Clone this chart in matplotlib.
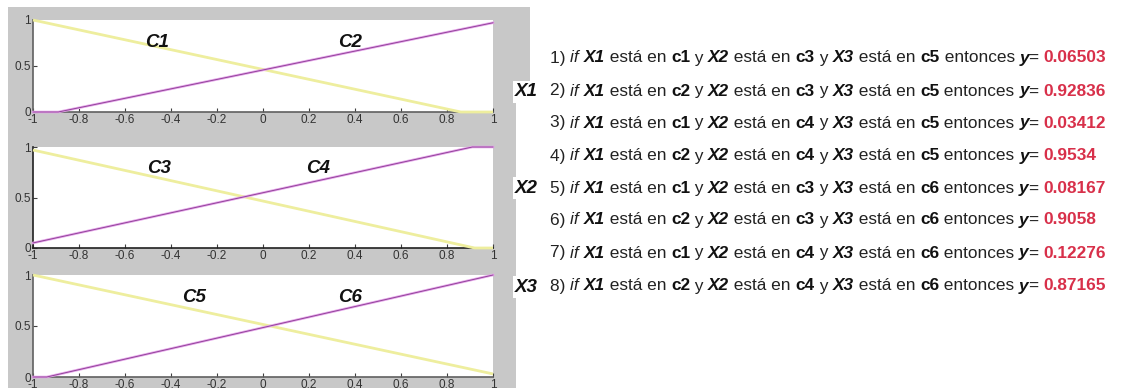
import matplotlib
matplotlib.use("Agg")
import matplotlib.pyplot as plt
from matplotlib.patches import Rectangle

plt.rcParams['font.family'] = ['Liberation Sans', 'DejaVu Sans']

W, H = 1141, 388

# Membership functions (breakpoints x, membership y)
c1_x = [-1.0, 0.86, 1.0]
c1_y = [1.0, 0.0, 0.0]
c2_x = [-1.0, -0.89, 1.0]
c2_y = [0.0, 0.0, 0.97]
c3_x = [-1.0, 0.92, 1.0]
c3_y = [0.97, 0.0, 0.0]
c4_x = [-1.0, 0.91, 1.0]
c4_y = [0.05, 1.0, 1.0]
c5_x = [-1.0, 1.0]
c5_y = [1.0, 0.03]
c6_x = [-1.0, -0.94, 1.0]
c6_y = [0.0, 0.0, 1.0]

set_names = [("C1", "C2"), ("C3", "C4"), ("C5", "C6")]
var_names = ["X1", "X2", "X3"]
x_ticks = [-1, -0.8, -0.6, -0.4, -0.2, 0, 0.2, 0.4, 0.6, 0.8, 1]
x_tick_labels = ["-1", "-0.8", "-0.6", "-0.4", "-0.2", "0", "0.2", "0.4", "0.6", "0.8", "1"]
y_ticks = [0, 0.5, 1]
y_tick_labels = ["0", "0.5", "1"]

rule_x1 = ["c1", "c2", "c1", "c2", "c1", "c2", "c1", "c2"]
rule_x2 = ["c3", "c3", "c4", "c4", "c3", "c3", "c4", "c4"]
rule_x3 = ["c5", "c5", "c5", "c5", "c6", "c6", "c6", "c6"]
rule_y = ["0.06503", "0.92836", "0.03412", "0.9534", "0.08167", "0.9058", "0.12276", "0.87165"]

fig = plt.figure(figsize=(W / 100, H / 100), dpi=100)
fig.patch.set_facecolor("white")

# gray MATLAB-like figure background
gray = "#c8c8c8"
fig.add_artist(Rectangle((8 / W, 0), (516 - 8) / W, (H - 7) / H,
                         transform=fig.transFigure, facecolor=gray,
                         edgecolor="none", zorder=0))
fig.add_artist(Rectangle((8 / W, (H - 88) / H), (530 - 8) / W, 81 / H,
                         transform=fig.transFigure, facecolor=gray,
                         edgecolor="none", zorder=0))

# axes positions in pixels (left, top, right, bottom)
ax_px = [(33, 20, 493, 112), (33, 147, 493, 248), (33, 275, 493, 377)]
data = [((c1_x, c1_y), (c2_x, c2_y)),
        ((c3_x, c3_y), (c4_x, c4_y)),
        ((c5_x, c5_y), (c6_x, c6_y))]
label_pos = [((-0.46, 0.76), (0.38, 0.76)),
             ((-0.45, 0.79), (0.24, 0.79)),
             ((-0.30, 0.78), (0.38, 0.78))]
spine_cols = ["#606060", "#202020", "#606060"]

for i, (l, t, r, b) in enumerate(ax_px):
    ax = fig.add_axes([l / W, (H - b) / H, (r - l) / W, (b - t) / H])
    ax.set_facecolor("white")
    (ax_, ay_), (bx_, by_) = data[i]
    ax.plot(ax_, ay_, color="#eeee9e", lw=2.0, solid_capstyle="butt", clip_on=False, zorder=3)
    ax.plot(bx_, by_, color="#e3a2e8", lw=1.8, clip_on=False, zorder=4)
    ax.plot(bx_, by_, color="#8a3a92", lw=0.6, clip_on=False, zorder=5)
    ax.set_xlim(-1, 1)
    ax.set_ylim(0, 1)
    for s in ["top", "right"]:
        ax.spines[s].set_visible(False)
    for s in ["left", "bottom"]:
        ax.spines[s].set_color(spine_cols[i])
        ax.spines[s].set_linewidth(1.2)
    ax.set_xticks(x_ticks)
    ax.set_xticklabels(x_tick_labels)
    ax.set_yticks(y_ticks)
    ax.set_yticklabels(y_tick_labels)
    ax.tick_params(direction="in", length=3, width=0.8, colors="#404040",
                   labelsize=8.5, pad=1.5, labelcolor="#333333")
    (p1, p2) = label_pos[i]
    n1, n2 = set_names[i]
    ax.text(p1[0], p1[1], n1, fontsize=13.5, fontweight="bold", style="italic",
            ha="center", va="center", color="#111111", zorder=6)
    ax.text(p2[0], p2[1], n2, fontsize=13.5, fontweight="bold", style="italic",
            ha="center", va="center", color="#111111", zorder=6)

# variable labels
var_y = [92, 188, 287]
for name, yp in zip(var_names, var_y):
    fig.text(515 / W, 1 - yp / H, name, fontsize=13.5, fontweight="bold",
             style="italic", ha="left", va="center", color="#111111",
             bbox=dict(facecolor="white", edgecolor="none", pad=1.5))

# rules text
fig.canvas.draw()
renderer = fig.canvas.get_renderer()
rule_rows = [58, 91, 123, 156, 188, 220, 253, 286]
fs = 12.4
for k in range(8):
    segs = [
        (f"{k + 1}) ", "normal", "normal", "#222222"),
        ("if ", "italic", "normal", "#222222"),
        ("X1", "italic", "bold", "#111111"),
        (" está en ", "normal", "normal", "#222222"),
        (rule_x1[k], "normal", "bold", "#111111"),
        (" y ", "normal", "normal", "#222222"),
        ("X2", "italic", "bold", "#111111"),
        (" está en ", "normal", "normal", "#222222"),
        (rule_x2[k], "normal", "bold", "#111111"),
        (" y ", "normal", "normal", "#222222"),
        ("X3", "italic", "bold", "#111111"),
        (" está en ", "normal", "normal", "#222222"),
        (rule_x3[k], "normal", "bold", "#111111"),
        (" entonces ", "normal", "normal", "#222222"),
        ("y", "italic", "bold", "#111111"),
        ("= ", "normal", "normal", "#222222"),
        (rule_y[k], "normal", "bold", "#d8304a"),
    ]
    xp = 550
    yp = 1 - rule_rows[k] / H
    for txt, st, wt, col in segs:
        tt = fig.text(xp / W, yp, txt, fontsize=fs, style=st, fontweight=wt,
                      color=col, ha="left", va="center")
        bb = tt.get_window_extent(renderer)
        xp += bb.width

fig.savefig("out.png", dpi=100, facecolor="white")
